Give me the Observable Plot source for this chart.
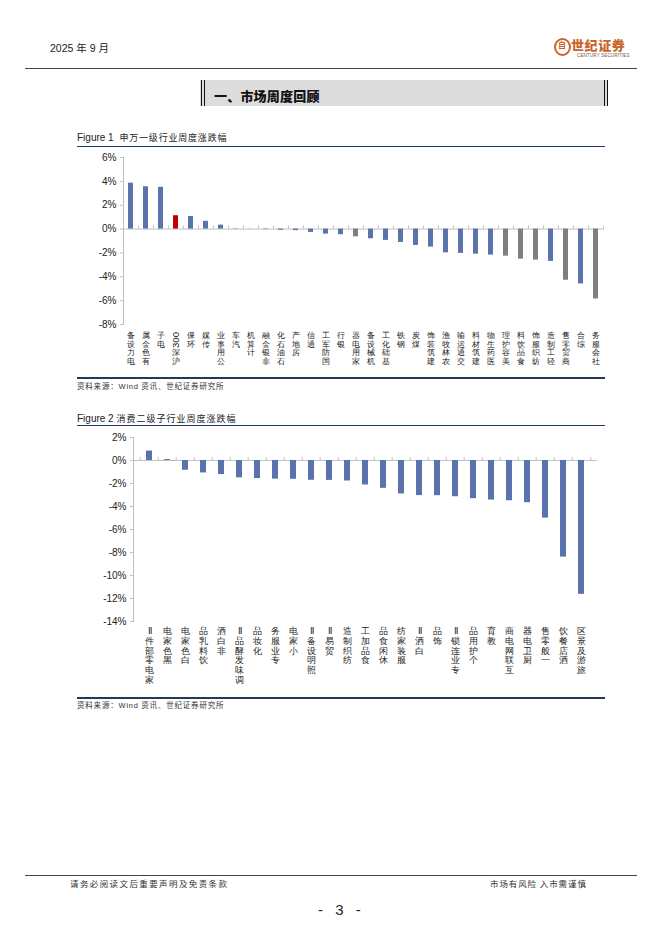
<!DOCTYPE html>
<html><head><meta charset="utf-8">
<script src="https://cdn.jsdelivr.net/npm/d3@7"></script>
<script src="https://cdn.jsdelivr.net/npm/@observablehq/plot@0.6"></script>
<style>
html,body{margin:0;padding:0;background:#fff;}
body{width:662px;height:936px;position:relative;overflow:hidden;font-family:"Liberation Sans",Arial,"Noto Sans CJK SC",sans-serif;color:#222;}
.a{position:absolute;white-space:nowrap;}
.cjk{font-family:"Noto Sans CJK SC",sans-serif;}
.rule{position:absolute;}
</style></head><body>

<div class="a" style="left:50px;top:40px;font-size:10.5px;">2025 <span class="cjk">年</span> 9 <span class="cjk">月</span></div>

<div class="a" style="left:554px;top:38px;width:13px;height:14px;border:2px solid #c8652c;border-radius:50%;"></div>
<div class="a cjk" style="left:558px;top:40px;font-size:8px;line-height:10px;font-weight:700;color:#c8652c;">自</div>
<div class="a cjk" style="left:571px;top:38px;font-size:13px;line-height:14px;font-weight:900;color:#c8652c;letter-spacing:0.6px;">世纪证券</div>
<div class="a" style="left:577px;top:53px;font-size:4.6px;line-height:5px;color:#7a5a40;letter-spacing:0.1px;">CENTURY SECURITIES</div>

<div class="rule" style="left:25px;top:68px;width:612px;height:1px;background:#444;"></div>

<div class="a" style="left:200px;top:80px;width:408px;height:26px;background:#dcdcdc;"></div>
<div class="rule" style="left:201px;top:80px;width:1.2px;height:26px;background:#111;"></div>
<div class="rule" style="left:203.5px;top:80px;width:1.2px;height:26px;background:#111;"></div>
<div class="rule" style="left:604px;top:80px;width:1.2px;height:26px;background:#111;"></div>
<div class="rule" style="left:606.5px;top:80px;width:1.2px;height:26px;background:#111;"></div>
<div class="a cjk" style="left:214px;top:86px;font-size:13px;font-weight:900;letter-spacing:0.2px;color:#111;">一、市场周度回顾</div>

<div class="a" style="left:77px;top:131px;font-size:10px;">Figure 1 <span class="cjk" style="font-size:9px;letter-spacing:0.8px;margin-left:3px;">申万一级行业周度涨跌幅</span></div>
<div class="rule" style="left:77px;top:145.5px;width:528px;height:1.3px;background:#1f3b5a;"></div>
<div id="c1" class="a" style="left:0;top:150px;"></div>
<div class="rule" style="left:77px;top:377px;width:528px;height:2px;background:#223a52;"></div>
<div class="a cjk" style="left:77px;top:380px;font-size:7.5px;letter-spacing:0.8px;color:#333;">资料来源：<span style="font-family:'Liberation Sans'">Wind</span> 资讯、世纪证券研究所</div>

<div class="a" style="left:77px;top:412px;font-size:10px;">Figure 2 <span class="cjk" style="font-size:9px;letter-spacing:1px;">消费二级子行业周度涨跌幅</span></div>
<div class="rule" style="left:77px;top:425px;width:528px;height:1.3px;background:#1f3b5a;"></div>
<div id="c2" class="a" style="left:0;top:430px;"></div>
<div class="rule" style="left:77px;top:696.5px;width:528px;height:2px;background:#223a52;"></div>
<div class="a cjk" style="left:77px;top:699px;font-size:7.5px;letter-spacing:0.8px;color:#333;">资料来源：<span style="font-family:'Liberation Sans'">Wind</span> 资讯、世纪证券研究所</div>

<div class="rule" style="left:25px;top:875px;width:612px;height:1px;background:#444;"></div>
<div class="a cjk" style="left:70px;top:877px;font-size:8.5px;letter-spacing:1.4px;color:#333;">请务必阅读文后重要声明及免责条款</div>
<div class="a cjk" style="left:490px;top:877px;font-size:8.5px;letter-spacing:0.9px;color:#333;">市场有风险 入市需谨慎</div>
<div class="a" style="left:318px;top:901px;font-size:15px;letter-spacing:4px;color:#222;">- 3 -</div>

<script>
// ---------- Figure 1 data ----------
const industries = ["电力设备","有色金属","电子","沪深300","环保","传媒","公用事业","汽车","计算机","非银金融","石油石化","房地产","通信","国防军工","银行","家用电器","机械设备","基础化工","钢铁","煤炭","建筑装饰","农林牧渔","交通运输","建筑材料","医药生物","美容护理","食品饮料","纺织服饰","轻工制造","商贸零售","综合","社会服务"];
const industryChange = [3.85,3.55,3.5,1.12,1.05,0.65,0.33,0.03,0.01,-0.04,-0.1,-0.13,-0.28,-0.42,-0.47,-0.65,-0.81,-0.95,-1.12,-1.37,-1.51,-1.99,-2.04,-2.1,-2.18,-2.27,-2.52,-2.6,-2.71,-4.29,-4.6,-5.86];
const consumerIndustries = ["家用电器","美容护理","食品饮料","纺织服饰","商贸零售","社会服务"];
const benchmark = "沪深300";
const ticks1 = [6,4,2,0,-2,-4,-6,-8];

// ---------- Figure 2 data ----------
const subIndustries = ["家电零部件Ⅱ","黑色家电","白色家电","饮料乳品","非白酒","调味发酵品Ⅱ","化妆品","专业服务","小家电","照明设备Ⅱ","贸易Ⅱ","纺织制造","食品加工","休闲食品","服装家纺","白酒Ⅱ","饰品","专业连锁Ⅱ","个护用品","教育","互联网电商","厨卫电器","一般零售","酒店餐饮","旅游及景区"];
const subChange = [0.82,0.08,-0.85,-1.08,-1.22,-1.51,-1.57,-1.62,-1.63,-1.72,-1.73,-1.78,-2.13,-2.42,-2.91,-3.05,-3.06,-3.15,-3.32,-3.44,-3.5,-3.67,-5.01,-8.4,-11.64];
const ticks2 = [2,0,-2,-4,-6,-8,-10,-12,-14];

const BLUE = "#5a73ac", GREY = "#7f7f7f", RED = "#c00000";
const AXIS = "#bfbfbf";

function labelMarks(cats, {pitch, fontCJK, fontLatin, start}) {
  const toks = [];
  cats.forEach(c => {
    const parts = c.match(/[A-Za-z0-9]+|./gu).reverse();
    let off = start;
    for (const p of parts) {
      const latin = /^[A-Za-z0-9]+$/.test(p);
      const h = latin ? p.length * fontLatin * 0.56 + 1 : pitch;
      toks.push({cat: c, t: p, latin, dy: Math.round((off + h / 2) * 4) / 4});
      off += h;
    }
  });
  return d3.groups(toks, d => d.dy).map(([dy, arr]) => Plot.text(arr, {
    x: "cat", text: "t", frameAnchor: "bottom", dy,
    rotate: d => d.latin ? -90 : 0,
    fontSize: d => d.latin ? fontLatin : fontCJK,
    fontFamily: d => d.latin ? "Liberation Sans" : "Noto Sans CJK SC",
    fill: "#222", lineAnchor: "middle", textAnchor: "middle"
  }));
}

function chart({cats, vals, colorOf, ticks, width, height, mt, mb, ml, mr, pitch, fontCJK, fontLatin, start}) {
  const data = cats.map((c, i) => ({name: c, value: vals[i]}));
  const step = (width - ml - mr) / cats.length;
  return Plot.plot({
    width, height, marginTop: mt, marginBottom: mb, marginLeft: ml, marginRight: mr,
    style: {fontFamily: "Liberation Sans, Arial, sans-serif", overflow: "visible", background: "transparent"},
    x: {domain: cats, paddingInner: 0.64, paddingOuter: 0.32, axis: null},
    y: {domain: [d3.min(ticks), d3.max(ticks)], axis: null},
    color: {type: "identity"},
    marks: [
      Plot.axisY({ticks, tickFormat: d => d + "%", tickSize: 3, tickPadding: 4, fontSize: 10, fill: "#222", stroke: AXIS, label: null}),
      Plot.frame({anchor: "left", stroke: AXIS}),
      Plot.ruleY([0], {stroke: AXIS}),
      Plot.ruleX(cats, {x: d => d, y1: 0, y2: 0.25, dx: -step / 2, stroke: AXIS}),
      Plot.ruleX([cats[cats.length - 1]], {x: d => d, y1: 0, y2: 0.25, dx: step / 2, stroke: AXIS}),
      Plot.barY(data, {x: "name", y: "value", fill: d => colorOf(d.name)}),
      ...labelMarks(cats, {pitch, fontCJK, fontLatin, start})
    ]
  });
}

document.getElementById("c1").appendChild(chart({
  cats: industries, vals: industryChange, ticks: ticks1,
  colorOf: n => n === benchmark ? RED : consumerIndustries.includes(n) ? GREY : BLUE,
  width: 662, height: 228, mt: 7, mb: 54, ml: 123, mr: 58,
  pitch: 8.4, fontCJK: 8, fontLatin: 9.5, start: 7
}));

document.getElementById("c2").appendChild(chart({
  cats: subIndustries, vals: subChange, ticks: ticks2,
  colorOf: n => BLUE,
  width: 662, height: 266, mt: 7, mb: 75, ml: 133, mr: 65,
  pitch: 9.7, fontCJK: 9, fontLatin: 9.5, start: 5
}));
</script>
</body></html>
